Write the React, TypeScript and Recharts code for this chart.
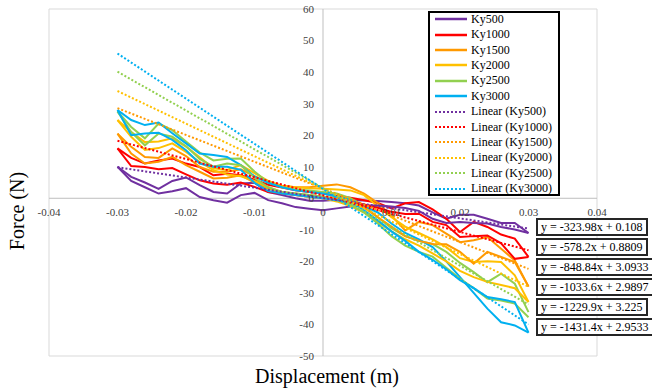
import React from "react";
import {
  ComposedChart,
  Line,
  XAxis,
  YAxis,
  CartesianGrid,
  ReferenceLine,
  ReferenceDot,
} from "recharts";

// displacement steps (m) shared by every loop branch
const displacement = [
  -0.03, -0.028, -0.026, -0.024, -0.022, -0.02, -0.018, -0.016, -0.014, -0.012,
  -0.01, -0.008, -0.006, -0.004, -0.002, 0, 0.002, 0.004, 0.006, 0.008, 0.01,
  0.012, 0.014, 0.016, 0.018, 0.02, 0.022, 0.024, 0.026, 0.028, 0.03,
];

// force (N), two branches of each hysteresis loop
const ky500Up = [10, 6.8, 5, 3, 5.5, 6.6, 4.2, 2, 1.5, 4.7, 4.9, 2, 1, 0, -0.8, -0.8, -0.5, -0.6, -0.7, -0.9, -1.2, -1.6, -2.3, -4.5, -6.5, -5.2, -5.2, -6.5, -7.8, -7.8, -11];
const ky500Down = [10, 5.5, 3.5, 1.5, 2.2, 3.2, 0.4, -0.6, -1.4, 1, 1.7, -0.6, -1.6, -2.8, -3.3, -3.8, -3.2, -2.6, -2.3, -2.3, -2.6, -3.1, -4, -6.5, -7.8, -7.5, -7.8, -8, -9.1, -9.9, -11];
const ky1000Up = [15.8, 12.8, 11, 12, 12.6, 11, 9.9, 7.3, 7.8, 7.3, 5.9, 4.3, 3.4, 2.5, 2, 1.5, 0.8, 0.2, -0.6, -1.5, -3.2, -1.6, -1.2, -3.5, -6.5, -10.7, -7.5, -9.1, -11.5, -12.8, -18.6];
const ky1000Down = [15.8, 10.2, 9.9, 9.2, 9.6, 7.6, 5.7, 4.7, 4.3, 5, 3.6, 2, 1.5, 1, 0.5, 0, -0.6, -1.2, -2, -3, -4.3, -5, -4.9, -7.5, -8.5, -12.3, -12, -11.8, -14.3, -19.2, -18.6];
const ky1500Up = [20.5, 16.3, 13.1, 12.8, 15.8, 13.4, 9.9, 8.4, 8.4, 9.2, 7, 5, 4, 3.5, 3.5, 4, 4.4, 3.5, 1.5, -1.5, -5.5, -10.2, -7.5, -8.5, -11.2, -13.9, -13.3, -12.3, -16, -19.7, -28];
const ky1500Down = [20.5, 14.2, 11, 11.6, 13.1, 10.5, 8.4, 6.3, 6.5, 7.3, 5, 3, 2, 1.5, 1, 0.5, 0, -1, -3, -6, -9, -12, -13.5, -14.5, -14.6, -17, -20.7, -17, -18.6, -20.2, -28];
const ky2000Up = [24.8, 21, 17.8, 18, 19, 16.4, 13, 9.5, 9, 10.5, 8, 5.5, 4, 3.5, 3.2, 3, 2.8, 2.5, 1, -2.5, -6, -9, -11, -13, -15.5, -19, -20.2, -20, -20.2, -24.4, -32.9];
const ky2000Down = [24.8, 19.5, 15.3, 15.9, 17.4, 14.7, 11.5, 8.9, 7.5, 7, 5.5, 3.5, 2, 1, 0.5, 0, -1, -2.5, -4.5, -7.5, -10.5, -13, -15, -17.5, -20, -23, -25, -26.5, -27.5, -28.5, -32.9];
const ky2500Up = [27.5, 22.6, 19, 23.7, 21.6, 18, 14.5, 12, 12.5, 12.6, 8.5, 5, 3.5, 2.8, 2.5, 2, 1.5, 0, -2.5, -6, -9.5, -12, -13.5, -14.5, -17, -20.5, -23.4, -26.6, -23.9, -27.1, -36.1];
const ky2500Down = [27.5, 21, 16.8, 20.5, 19.5, 16.5, 12.5, 10, 11, 10.5, 6.5, 3.5, 2, 1.5, 1, 0.5, -0.5, -2, -4.5, -8, -12, -15, -17, -18.5, -22, -25.5, -28.5, -31.8, -32.4, -33.4, -37.7];
const ky3000Up = [28, 24.8, 23.2, 24, 20.6, 17.4, 14.2, 13.7, 13.1, 10.5, 6.9, 4.9, 3.5, 2.5, 2, 1.5, 0.5, -0.5, -2.5, -4.5, -8, -11, -13, -15.5, -20, -25, -30, -35, -39.3, -40.3, -42.6];
const ky3000Down = [28, 20, 20.5, 20.8, 18.5, 15.2, 11, 10, 10, 9, 4.9, 2.3, 1.5, 1, 0.5, 0, -0.6, -1.2, -3.8, -7, -10.5, -13.5, -17, -19.5, -22.5, -26, -28.5, -31.3, -32, -32.9, -42.6];

const seriesNames = ["Ky500", "Ky1000", "Ky1500", "Ky2000", "Ky2500", "Ky3000"];
const seriesColors = ["#7030A0", "#FF0000", "#FF9900", "#FFC000", "#92D050", "#00B0F0"];

// linear trendlines as printed on the chart
const slopes = [-323.98, -578.2, -848.84, -1033.6, -1229.9, -1431.4];
const intercepts = [0.108, 0.8809, 3.0933, 2.9897, 3.225, 2.9533];
const equations = [
  "y = -323.98x + 0.108",
  "y = -578.2x + 0.8809",
  "y = -848.84x + 3.0933",
  "y = -1033.6x + 2.9897",
  "y = -1229.9x + 3.225",
  "y = -1431.4x + 2.9533",
];

const xTicks = [-0.04, -0.03, -0.02, -0.01, 0, 0.01, 0.02, 0.03, 0.04];
const yTicks = [-50, -40, -30, -20, -10, 0, 10, 20, 30, 40, 50, 60];

const ups = [ky500Up, ky1000Up, ky1500Up, ky2000Up, ky2500Up, ky3000Up];
const downs = [ky500Down, ky1000Down, ky1500Down, ky2000Down, ky2500Down, ky3000Down];

const toPoints = (ys: number[]) => displacement.map((x, i) => ({ x, y: ys[i] }));

const FONT = '"Liberation Serif", "Times New Roman", serif';
const TICK_COLOR = "#404040";

const App = () => {
  const first = displacement[0];
  const last = displacement[displacement.length - 1];

  return (
    <div
      style={{
        position: "absolute",
        left: 0,
        top: 0,
        width: 652,
        height: 392,
        overflow: "hidden",
        background: "#fff",
        fontFamily: FONT,
      }}
    >
      <ComposedChart
        width={652}
        height={392}
        margin={{ top: 9, right: 55, bottom: 36, left: 49 }}
        style={{ fontFamily: FONT }}
      >
        <CartesianGrid stroke="#d9d9d9" />
        <XAxis
          type="number"
          dataKey="x"
          domain={[-0.04, 0.04]}
          ticks={xTicks}
          height={0}
          tick={false}
          tickLine={false}
          axisLine={false}
          allowDataOverflow
        />
        <YAxis
          type="number"
          domain={[-50, 60]}
          ticks={yTicks}
          width={0}
          tick={false}
          tickLine={false}
          axisLine={false}
          allowDataOverflow
        />
        <ReferenceLine x={0} stroke="#bfbfbf" />
        <ReferenceLine y={0} stroke="#bfbfbf" />

        {seriesNames.map((name, i) => (
          <Line
            key={name + "-up"}
            data={toPoints(ups[i])}
            dataKey="y"
            type="linear"
            stroke={seriesColors[i]}
            strokeWidth={2}
            dot={false}
            isAnimationActive={false}
          />
        ))}
        {seriesNames.map((name, i) => (
          <Line
            key={name + "-down"}
            data={toPoints(downs[i])}
            dataKey="y"
            type="linear"
            stroke={seriesColors[i]}
            strokeWidth={2}
            dot={false}
            isAnimationActive={false}
          />
        ))}
        {seriesNames.map((name, i) => (
          <Line
            key={name + "-trend"}
            data={[
              { x: first, y: slopes[i] * first + intercepts[i] },
              { x: last, y: slopes[i] * last + intercepts[i] },
            ]}
            dataKey="y"
            type="linear"
            stroke={seriesColors[i]}
            strokeWidth={2}
            strokeDasharray="2 2"
            dot={false}
            isAnimationActive={false}
          />
        ))}

        {/* tick labels sit on the axes that cross at zero */}
        {xTicks.map((t) => (
          <ReferenceDot
            key={"xt" + t}
            x={t}
            y={0}
            r={0}
            fill="none"
            stroke="none"
            label={{
              value: String(t),
              position: "bottom",
              offset: 10,
              fill: TICK_COLOR,
              fontSize: 11,
              fontFamily: FONT,
            }}
          />
        ))}
        {yTicks.map((t) => (
          <ReferenceDot
            key={"yt" + t}
            x={0}
            y={t}
            r={0}
            fill="none"
            stroke="none"
            label={{
              value: String(t),
              position: "left",
              offset: 9,
              fill: TICK_COLOR,
              fontSize: 11,
              fontFamily: FONT,
            }}
          />
        ))}
      </ComposedChart>

      {/* axis titles */}
      <div
        style={{
          position: "absolute",
          left: 17 - 70,
          top: 211 - 12,
          width: 140,
          height: 24,
          lineHeight: "24px",
          fontSize: 20,
          textAlign: "center",
          color: "#000",
          transform: "rotate(-90deg)",
          whiteSpace: "nowrap",
        }}
      >
        Force (N)
      </div>
      <div
        style={{
          position: "absolute",
          left: 327 - 100,
          top: 364,
          width: 200,
          height: 24,
          lineHeight: "24px",
          fontSize: 20,
          textAlign: "center",
          color: "#000",
          whiteSpace: "nowrap",
        }}
      >
        Displacement (m)
      </div>

      {/* legend */}
      <div
        style={{
          position: "absolute",
          left: 428,
          top: 11,
          width: 132,
          height: 185,
          boxSizing: "border-box",
          border: "2px solid #000",
          background: "#fff",
        }}
      >
        {[...seriesNames, ...seriesNames.map((n) => `Linear (${n})`)].map((label, i) => (
          <div
            key={label}
            style={{
              position: "absolute",
              left: 5,
              top: -1.4 + i * 15.4,
              height: 15.4,
              display: "flex",
              alignItems: "center",
              fontSize: 12,
              whiteSpace: "nowrap",
              color: "#000",
            }}
          >
            <svg width={32} height={4} style={{ marginRight: 4 }}>
              <line
                x1={0}
                y1={2}
                x2={32}
                y2={2}
                stroke={seriesColors[i % 6]}
                strokeWidth={i < 6 ? 2.5 : 2}
                strokeDasharray={i < 6 ? undefined : "2 2"}
              />
            </svg>
            {label}
          </div>
        ))}
      </div>

      {/* trendline equations */}
      {equations.map((eq, i) => (
        <div
          key={eq}
          style={{
            position: "absolute",
            left: 536,
            top: 217.5 + i * 20.1,
            height: 18,
            boxSizing: "border-box",
            border: "2px solid #262626",
            background: "#fff",
            padding: "0 3px",
            fontSize: 12,
            lineHeight: "14px",
            whiteSpace: "nowrap",
            color: "#000",
          }}
        >
          {eq}
        </div>
      ))}
    </div>
  );
};

export default App;
